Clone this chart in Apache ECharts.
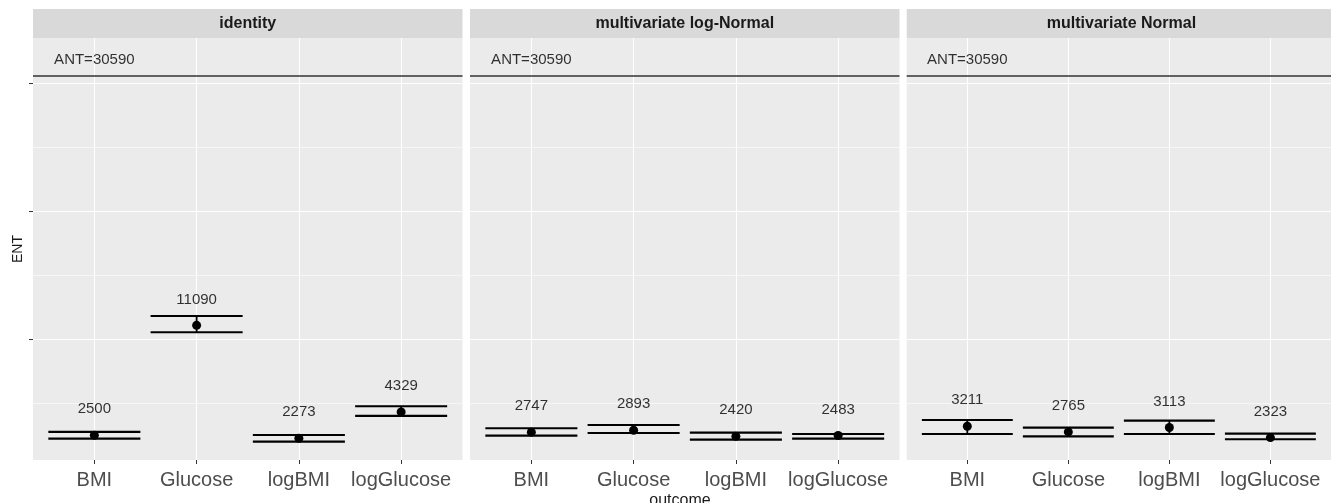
<!DOCTYPE html>
<html>
<head>
<meta charset="utf-8">
<script src="https://cdn.jsdelivr.net/npm/echarts@6/dist/echarts.min.js"></script>
<style>
html,body{margin:0;padding:0;background:#fff;}
#chart{width:1331px;height:503px;}
</style>
</head>
<body>
<div id="chart"></div>
<script>
// ---- data ----
const categories = ['BMI', 'Glucose', 'logBMI', 'logGlucose'];
const panelNames = ['identity', 'multivariate log-Normal', 'multivariate Normal'];

const estIdentity = [2500, 11090, 2273, 4329];
const lowIdentity = [2240, 10550, 2000, 4010];
const upIdentity  = [2760, 11820, 2525, 4770];

const estLogNormal = [2747, 2893, 2420, 2483];
const lowLogNormal = [2470, 2680, 2160, 2235];
const upLogNormal  = [3050, 3305, 2705, 2600];

const estNormal = [3211, 2765, 3113, 2323];
const lowNormal = [2600, 2420, 2600, 2190];
const upNormal  = [3695, 3095, 3640, 2625];

const antValue = 30590;
const antLabel = 'ANT=' + antValue;
const yMajorTicks = [10000, 20000, 30000];
const yMinorTicks = [5000, 15000, 25000];
const xTickValues = [0, 1, 2, 3];

// ---- layout / style constants ----
const FONT = 'Liberation Sans, Arial, sans-serif';
const Y_MIN = 570, Y_MAX = 33540;
const X_MIN = -0.6, X_MAX = 3.6;
const PANEL_TOP = 38, PANEL_H = 422, PANEL_W = 429.5;
const PANEL_LEFTS = [33, 470, 906.7];
const STRIP_TOP = 9, STRIP_H = 29;
const LABEL_NUDGE = 2030;   // data units above estimate
const ANT_NUDGE = 1230;
const ERR_HALF = 0.45;

const panelData = [
  {est: estIdentity, low: lowIdentity, up: upIdentity},
  {est: estLogNormal, low: lowLogNormal, up: upLogNormal},
  {est: estNormal, low: lowNormal, up: upNormal}
];

const grids = [], xAxes = [], yAxes = [], series = [], graphics = [];

panelData.forEach((p, k) => {
  grids.push({
    left: PANEL_LEFTS[k], top: PANEL_TOP, width: PANEL_W, height: PANEL_H,
    show: true, backgroundColor: '#ebebeb', borderWidth: 0, containLabel: false
  });
  xAxes.push({
    type: 'value', gridIndex: k, min: X_MIN, max: X_MAX, position: 'bottom',
    axisLine: {show: false, onZero: false},
    axisTick: {show: true, length: 4, customValues: xTickValues, lineStyle: {color: '#333333', width: 1}},
    axisLabel: {show: true, customValues: xTickValues, margin: 10,
      formatter: v => categories[Math.round(v)],
      color: '#4d4d4d', fontSize: 20, fontFamily: FONT},
    splitLine: {show: true, customValues: xTickValues, lineStyle: {color: '#ffffff', width: 1.1}}
  });
  // major y axis
  yAxes.push({
    type: 'value', gridIndex: k, min: Y_MIN, max: Y_MAX, position: 'left',
    axisLine: {show: false, onZero: false},
    axisTick: {show: k === 0, length: 4, customValues: yMajorTicks, lineStyle: {color: '#333333', width: 1}},
    axisLabel: {show: false, customValues: yMajorTicks},
    splitLine: {show: true, customValues: yMajorTicks, lineStyle: {color: '#ffffff', width: 1.1}}
  });
  // minor y gridlines
  yAxes.push({
    type: 'value', gridIndex: k, min: Y_MIN, max: Y_MAX, position: 'left',
    axisLine: {show: false, onZero: false},
    axisTick: {show: false, customValues: yMinorTicks},
    axisLabel: {show: false, customValues: yMinorTicks},
    splitLine: {show: true, customValues: yMinorTicks, lineStyle: {color: '#ffffff', width: 0.55}}
  });
  const yi = k * 2;

  // error bars
  series.push({
    type: 'custom', xAxisIndex: k, yAxisIndex: yi, silent: true, z: 3,
    data: p.est.map((e, i) => [i, p.low[i], p.up[i]]),
    renderItem: (params, api) => {
      const x = api.value(0), lo = api.value(1), hi = api.value(2);
      const a = api.coord([x - ERR_HALF, lo]), b = api.coord([x + ERR_HALF, lo]);
      const c = api.coord([x - ERR_HALF, hi]), d = api.coord([x + ERR_HALF, hi]);
      const m1 = api.coord([x, lo]), m2 = api.coord([x, hi]);
      const st = {stroke: '#000000', lineWidth: 2.2, fill: null};
      return {type: 'group', children: [
        {type: 'line', shape: {x1: a[0], y1: a[1], x2: b[0], y2: b[1]}, style: st},
        {type: 'line', shape: {x1: c[0], y1: c[1], x2: d[0], y2: d[1]}, style: st},
        {type: 'line', shape: {x1: m1[0], y1: m1[1], x2: m2[0], y2: m2[1]}, style: {stroke: '#000000', lineWidth: 1.8}}
      ]};
    }
  });
  // points
  series.push({
    type: 'scatter', xAxisIndex: k, yAxisIndex: yi, silent: true, z: 4,
    symbol: 'circle', symbolSize: 9, itemStyle: {color: '#000000', opacity: 1},
    data: p.est.map((e, i) => [i, e])
  });
  // value labels
  series.push({
    type: 'scatter', xAxisIndex: k, yAxisIndex: yi, silent: true, z: 5,
    symbolSize: 0,
    data: p.est.map((e, i) => [i, e + LABEL_NUDGE, e]),
    label: {show: true, position: 'inside', formatter: q => String(q.value[2]),
      color: '#000000', fontSize: 15, fontFamily: FONT}
  });
  // ANT hline + label
  series.push({
    type: 'scatter', xAxisIndex: k, yAxisIndex: yi, silent: true, z: 5,
    symbolSize: 0,
    data: [[0, antValue + ANT_NUDGE]],
    label: {show: true, position: 'inside', formatter: antLabel,
      color: '#000000', fontSize: 15, fontFamily: FONT},
    markLine: {silent: true, symbol: 'none', label: {show: false},
      lineStyle: {color: '#333333', width: 1.5, type: 'solid'},
      data: [{yAxis: antValue}]}
  });

  // strip
  graphics.push({type: 'rect', left: PANEL_LEFTS[k], top: STRIP_TOP,
    shape: {width: PANEL_W, height: STRIP_H}, style: {fill: '#d9d9d9'}, silent: true});
  graphics.push({type: 'text', x: PANEL_LEFTS[k] + PANEL_W / 2, y: STRIP_TOP + STRIP_H / 2 + 0.5,
    style: {text: panelNames[k], fill: '#1a1a1a', font: 'bold 16px ' + FONT,
      textAlign: 'center', textVerticalAlign: 'middle'}, silent: true});
});

// axis titles
graphics.push({type: 'text', x: 18, y: 249, rotation: Math.PI / 2,
  style: {text: 'ENT', fill: '#1a1a1a', font: '14px ' + FONT, textAlign: 'center', textVerticalAlign: 'middle'}, silent: true});
graphics.push({type: 'text', x: 680, y: 501,
  style: {text: 'outcome', fill: '#1a1a1a', font: '16px ' + FONT, textAlign: 'center', textVerticalAlign: 'middle'}, silent: true});

const chart = echarts.init(document.getElementById('chart'), null, {renderer: 'canvas'});
chart.setOption({
  animation: false,
  backgroundColor: '#ffffff',
  grid: grids, xAxis: xAxes, yAxis: yAxes, series: series, graphic: graphics
});
</script>
</body>
</html>
